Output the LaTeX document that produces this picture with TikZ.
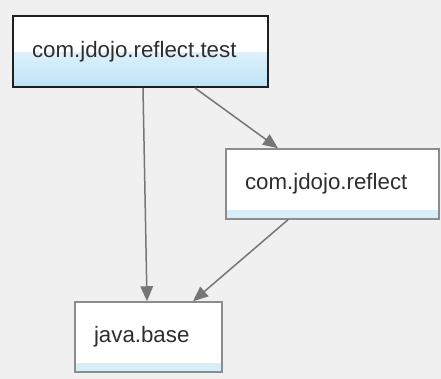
\documentclass[tikz,border=0pt]{standalone}
\usepackage{fontspec}
\setmainfont{Liberation Sans}
\usetikzlibrary{arrows.meta}
\definecolor{bg}{HTML}{F0F0F0}
\definecolor{lblue}{HTML}{BDE3F7}
\definecolor{sblue}{HTML}{D8EEF8}
\definecolor{edgegray}{HTML}{767676}
\definecolor{boxgray}{HTML}{8C8C8C}
\tikzset{
  modbox/.style={draw=boxgray, line width=1.5pt, fill=white, minimum height=70pt,
    inner xsep=19pt, inner ysep=0pt, align=left, font=\fontsize{22.3}{25}\selectfont, text=black!82,
    path picture={\fill[sblue] (path picture bounding box.south west) rectangle ([yshift=9pt]path picture bounding box.south east);}},
  topbox/.style={draw=black!88, line width=2pt, fill=white, minimum height=71pt,
    inner xsep=19pt, inner ysep=0pt, align=left, font=\fontsize{22.3}{25}\selectfont, text=black!82,
    path picture={\shade[top color=white, bottom color=lblue] (path picture bounding box.south west) rectangle ([yshift=34pt]path picture bounding box.south east);}},
  dep/.style={draw=edgegray, line width=1.5pt, -{Triangle[length=15pt,width=12.5pt,fill=edgegray]}}
}
\begin{document}
\begin{tikzpicture}[x=1pt,y=-1pt]
\fill[bg] (0,0) rectangle (441,379);
\useasboundingbox (0,0) rectangle (441,379);
\node[topbox, text width=217pt] (test) at (140.5,51.5) {com.jdojo.reflect.test};
\node[modbox, text width=175pt] (refl) at (332.5,184) {com.jdojo.reflect};
\node[modbox, text width=109pt] (base) at (148.5,337) {java.base};
\draw[dep] ([xshift=2.5pt]test.south) -- ([xshift=-1.5pt]base.north);
\draw[dep] ([xshift=54.5pt]test.south) -- ([xshift=-54.5pt]refl.north);
\draw[dep] ([xshift=-44.5pt]refl.south) -- ([xshift=44.5pt]base.north);
\end{tikzpicture}
\end{document}
